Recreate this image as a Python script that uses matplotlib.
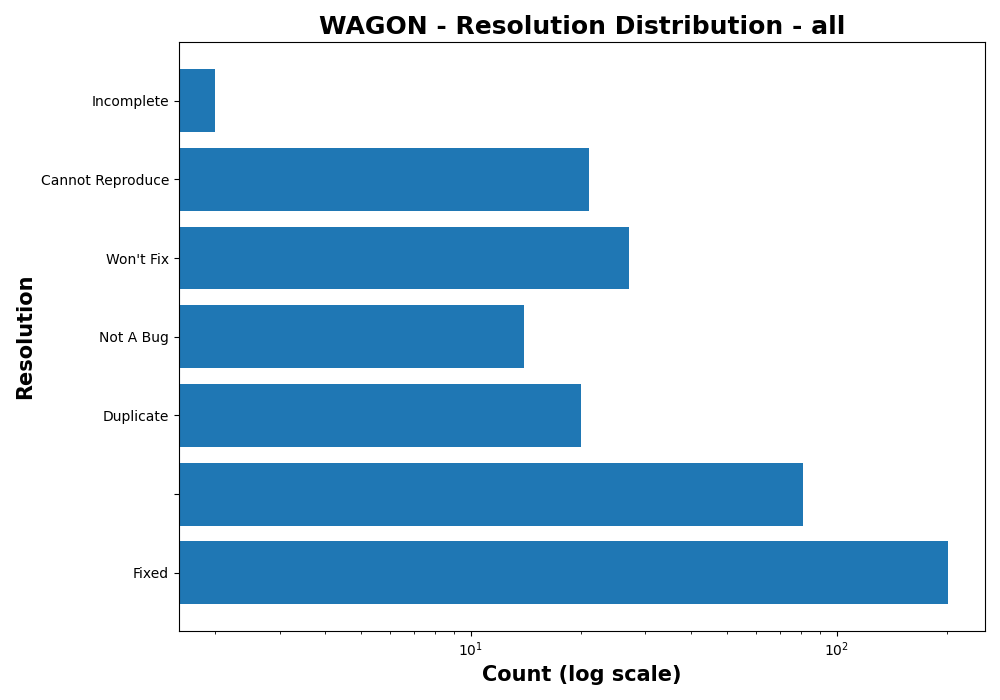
import matplotlib
matplotlib.use("Agg")
import matplotlib.pyplot as plt

# --- data ---
resolutions = ["Fixed", "", "Duplicate", "Not A Bug", "Won't Fix", "Cannot Reproduce", "Incomplete"]
counts = [202, 81, 20, 14, 27, 21, 2]

# --- plot ---
fig, ax = plt.subplots(figsize=(10, 7), dpi=100)
ax.barh(resolutions, counts, color="#1f77b4")
ax.set_xscale("log")
ax.set_title("WAGON - Resolution Distribution - all", fontsize=18, fontweight="bold")
ax.set_xlabel("Count (log scale)", fontsize=15, fontweight="bold")
ax.set_ylabel("Resolution", fontsize=15, fontweight="bold")
fig.tight_layout()
fig.savefig("out.png")
